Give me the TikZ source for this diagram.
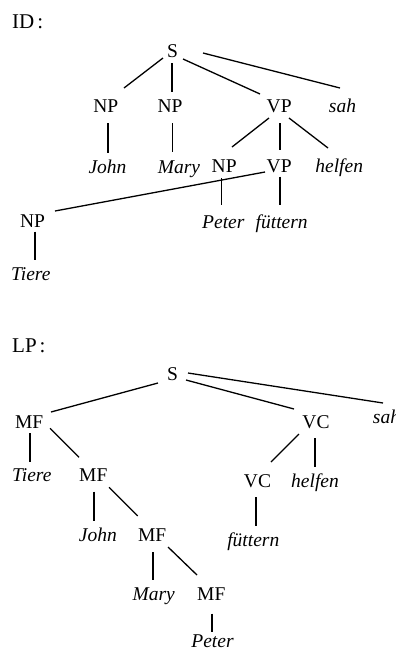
\documentclass[tikz,border=0pt]{standalone}
\usepackage{fontspec}
\setmainfont{Liberation Serif}
\begin{document}
\begin{tikzpicture}[x=1pt,y=-1pt,
  lab/.style={inner sep=0pt,anchor=base,font=\fontsize{19.5}{22}\selectfont},
  wrd/.style={lab,font=\fontsize{19.5}{22}\selectfont\itshape},
  ttl/.style={inner sep=0pt,anchor=base west,font=\fontsize{21}{24}\selectfont},
  edge/.style={line width=1.3pt}]
\useasboundingbox (0,0) rectangle (396,649);
\clip (0,0) rectangle (396,649);
\newcommand{\conn}[6]{\draw[edge] ([shift={(#2,#3)}]#1.base) -- ([shift={(#5,#6)}]#4.base);}
% ---------- ID tree ----------
\node[ttl] (id) at (12,28) {ID\kern3pt:};
\node[lab] (S1) at (172.5,57) {S};
\node[lab] (NP1) at (105.8,112) {NP};
\node[lab] (NP2) at (170,112) {NP};
\node[lab] (VP1) at (279.2,112) {VP};
\node[wrd] (sah1) at (342.5,112) {sah};
\node[wrd] (John1) at (107.5,173) {John};
\node[wrd] (Mary1) at (179,173) {Mary};
\node[lab] (NP3) at (224.2,172) {NP};
\node[lab] (VP2) at (279.2,172) {VP};
\node[wrd] (helfen1) at (339.2,172) {helfen};
\node[lab] (NP4) at (32.5,227) {NP};
\node[wrd] (Peter1) at (223.3,228) {Peter};
\node[wrd] (fuettern1) at (281.7,228) {füttern};
\node[wrd] (Tiere1) at (30.8,280.7) {Tiere};
\conn{S1}{-9.5}{1}{NP1}{18.2}{-24}
\conn{S1}{-0.5}{6}{NP2}{2}{-20}
\conn{S1}{10.5}{2}{VP1}{-19.2}{-18}
\conn{S1}{30.5}{-4}{sah1}{-2.5}{-24}
\conn{NP1}{2.2}{11}{John1}{0.5}{-20}
\conn{NP2}{2.3}{11}{Mary1}{-6.7}{-21}
\conn{VP1}{-10.2}{6}{NP3}{7.8}{-25}
\conn{VP1}{0.8}{11}{VP2}{0.8}{-22}
\conn{VP1}{9.8}{6}{helfen1}{-11.2}{-24}
\conn{VP2}{-14.2}{0}{NP4}{22.5}{-16}
\conn{NP3}{-2.5}{6.3}{Peter1}{-1.6}{-23}
\conn{VP2}{0.8}{4.7}{fuettern1}{-1.7}{-23}
\conn{NP4}{2.5}{4.7}{Tiere1}{4.2}{-20.7}
% ---------- LP tree ----------
\node[ttl] (lp) at (12,352) {LP\kern3pt:};
\node[lab] (S2) at (172.5,380) {S};
\node[lab] (MF1) at (29.2,428) {MF};
\node[lab] (VC1) at (316,428) {VC};
\node[wrd] (sah2) at (386.5,423) {sah};
\node[wrd] (Tiere2) at (31.8,481) {Tiere};
\node[lab] (MF2) at (93.3,481.5) {MF};
\node[lab] (VC2) at (257.5,487) {VC};
\node[wrd] (helfen2) at (315,487) {helfen};
\node[wrd] (John2) at (97.8,541) {John};
\node[lab] (MF3) at (152.2,541) {MF};
\node[wrd] (fuettern2) at (253.3,546) {füttern};
\node[wrd] (Mary2) at (153.7,600) {Mary};
\node[lab] (MF4) at (211.3,600) {MF};
\node[wrd] (Peter2) at (212.5,647) {Peter};
\conn{S2}{-14.5}{3}{MF1}{21.8}{-16}
\conn{S2}{13.5}{0}{VC1}{-22}{-19}
\conn{S2}{15.5}{-7}{sah2}{-3.5}{-20}
\conn{MF1}{0.8}{5.3}{Tiere2}{-1.8}{-19.3}
\conn{MF1}{20.8}{0.3}{MF2}{-14.3}{-24.2}
\conn{VC1}{-17}{6}{VC2}{13.5}{-25}
\conn{VC1}{-1}{10}{helfen2}{0}{-20}
\conn{MF2}{0.7}{10.2}{John2}{-3.8}{-20.3}
\conn{MF2}{15.7}{5.8}{MF3}{-14.5}{-25}
\conn{VC2}{-1.5}{10}{fuettern2}{2.7}{-20}
\conn{MF3}{0.8}{11}{Mary2}{-0.7}{-20}
\conn{MF3}{15.8}{6}{MF4}{-14.3}{-25}
\conn{MF4}{0.7}{13.5}{Peter2}{-0.5}{-15.5}
\end{tikzpicture}
\end{document}
